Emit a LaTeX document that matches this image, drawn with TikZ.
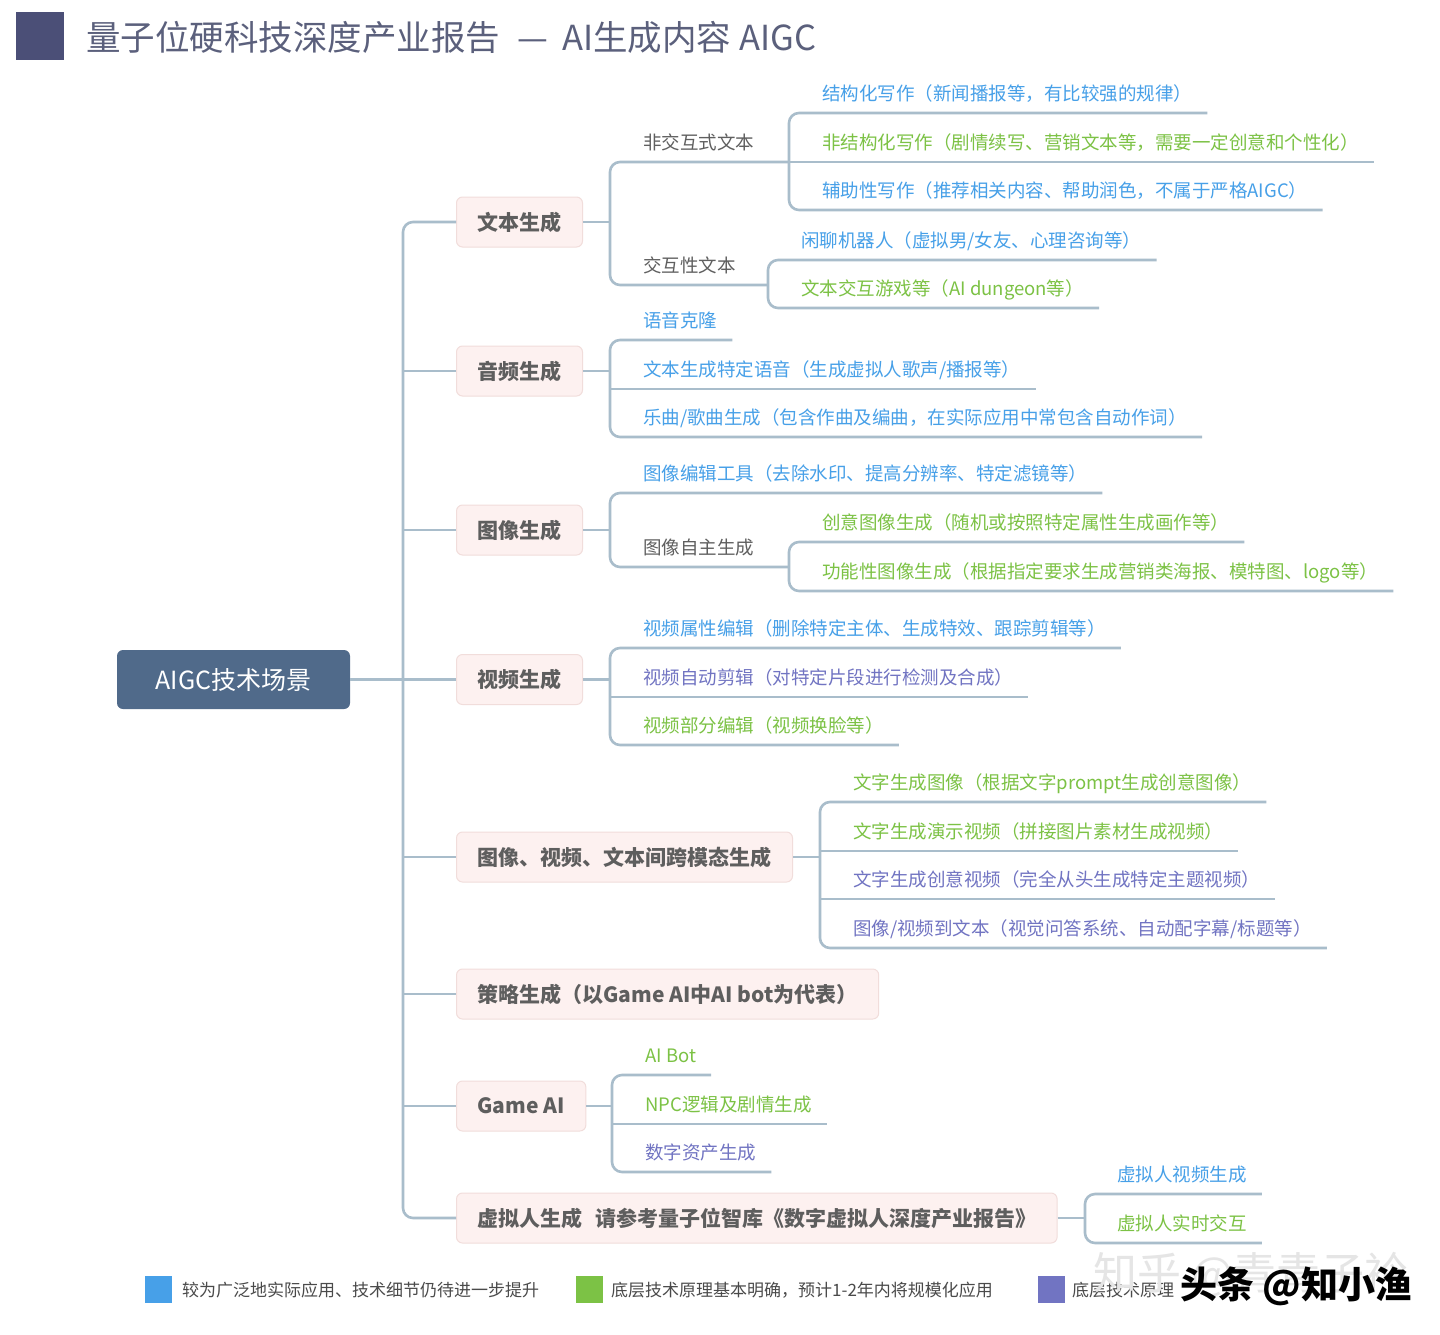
\documentclass[tikz,border=0pt]{standalone}
\usepackage{fontspec}
\setmainfont{Noto Sans CJK SC}
\usepackage{tikz}

\definecolor{linec}{HTML}{A9BDCB}
\definecolor{rootf}{HTML}{506A8A}
\definecolor{topicf}{HTML}{FDF1F0}
\definecolor{topicd}{HTML}{F1DDDB}
\definecolor{topict}{HTML}{5E5E5E}
\definecolor{blu}{HTML}{47A0E8}
\definecolor{grn}{HTML}{7CC245}
\definecolor{pur}{HTML}{7174C2}
\definecolor{midt}{HTML}{5F5F5F}
\definecolor{titlec}{HTML}{5B607C}
\definecolor{titleb}{HTML}{4B4F77}
\definecolor{legt}{HTML}{4A4A4A}

\begin{document}
\begin{tikzpicture}[x=1pt,y=-1pt,
	tree/.style={draw=linec,line width=2.6pt,rounded corners=10pt},
	root/.style={fill=rootf,text=white,rounded corners=6pt,minimum width=233pt,minimum height=59pt,font=\fontsize{25}{25}\selectfont},
	topic/.style={anchor=west,draw=topicd,line width=1pt,fill=topicf,rounded corners=6pt,text=topict,font=\fontsize{21}{21}\selectfont\bfseries,minimum height=50pt,inner xsep=21pt},
	leaf/.style={anchor=south west,font=\fontsize{18.5}{18.5}\selectfont,inner xsep=15pt,inner ysep=8pt,text depth=4pt,text height=14pt},
	mid/.style={leaf,text=midt},
	cblue/.style={leaf,text=blu},
	cgreen/.style={leaf,text=grn},
	cpurple/.style={leaf,text=pur},
	key/.style={minimum size=27pt,inner sep=0pt},
	keytext/.style={anchor=base west,inner sep=0pt,text=legt,font=\fontsize{17}{17}\selectfont}]
						\fill[white] (0,0) rectangle (1440,1334);
						\useasboundingbox (0,0) rectangle (1440,1334);
						
						\node[fill=titleb,minimum size=48pt,inner sep=0pt] (tbox) at (40,36) {};
						\node[anchor=base west,inner sep=0pt,text=titlec,font=\fontsize{34.5}{34.5}\selectfont] (title) at (86,50) {量子位硬科技深度产业报告\hspace{0.5em}—\hspace{0.4em}AI生成内容\hspace{0.25em}AIGC};
						
						\node[root] (root) at (233.5,679.5) {AIGC技术场景};
						
						\node[topic] (t1) at (456,222) {文本生成};
						\node[topic] (t2) at (456,371) {音频生成};
						\node[topic] (t3) at (456,530) {图像生成};
						\node[topic] (t4) at (456,679.5) {视频生成};
						\node[topic] (t5) at (456,857) {图像、视频、文本间跨模态生成};
						\node[topic] (t6) at (456,994) {策略生成（以Game AI中AI bot为代表）};
						\node[topic] (t7) at (456,1106) {Game AI};
						\node[topic] (t8) at (456,1218) {虚拟人生成\hspace{0.6em}请参考量子位智库《数字虚拟人深度产业报告》};
						
						\coordinate (sp) at (403,0);
						\coordinate (vA) at (610,0);
						\coordinate (vA1) at (789,0);
						\coordinate (vA2) at (768,0);
						\coordinate (vC1) at (789,0);
						\coordinate (vE) at (820,0);
						\coordinate (vG) at (612,0);
						\coordinate (vH) at (1085,0);
						
						\draw[tree] (t1.west) -- (t1 -| sp) -- (t8 -| sp) -- (t8.west);
						\draw[tree] (root.east) -- (t4.west);
						\draw[tree] (t2 -| sp) -- (t2.west);
						\draw[tree] (t3 -| sp) -- (t3.west);
						\draw[tree] (t5 -| sp) -- (t5.west);
						\draw[tree] (t6 -| sp) -- (t6.west);
						\draw[tree] (t7 -| sp) -- (t7.west);
						
						\node[mid] (m1) at (628,162) {非交互式文本};
						\node[mid] (m2) at (628,285) {交互性文本};
						\node[cblue] (a1) at (807,113) {结构化写作（新闻播报等，有比较强的规律）};
						\node[cgreen] (a2) at (807,162) {非结构化写作（剧情续写、营销文本等，需要一定创意和个性化）};
						\node[cblue] (a3) at (807,210) {辅助性写作（推荐相关内容、帮助润色，不属于严格AIGC）};
						\node[cblue] (a4) at (786,260) {闲聊机器人（虚拟男/女友、心理咨询等）};
						\node[cgreen] (a5) at (786,308) {文本交互游戏等（AI dungeon等）};
						\draw[tree] (t1.east) -- (t1 -| vA);
						\draw[tree] (m1.south -| vA1) -- (m1.south -| vA) -- (m2.south -| vA) -- (m2.south -| vA2);
						\draw[tree] (a1.south east) -- (a1.south east -| vA1) -- (a3.south east -| vA1) -- (a3.south east);
						\draw[tree] (a2.south east -| vA1) -- (a2.south east);
						\draw[tree] (a4.south east) -- (a4.south east -| vA2) -- (a5.south east -| vA2) -- (a5.south east);
						
						\node[cblue] (b1) at (628,340) {语音克隆};
						\node[cblue] (b2) at (628,389) {文本生成特定语音（生成虚拟人歌声/播报等）};
						\node[cblue] (b3) at (628,437) {乐曲/歌曲生成（包含作曲及编曲，在实际应用中常包含自动作词）};
						\draw[tree] (t2.east) -- (t2 -| vA);
						\draw[tree] (b1.south east) -- (b1.south east -| vA) -- (b3.south east -| vA) -- (b3.south east);
						\draw[tree] (b2.south east -| vA) -- (b2.south east);
						
						\node[cblue] (c1) at (628,493) {图像编辑工具（去除水印、提高分辨率、特定滤镜等）};
						\node[mid] (m3) at (628,567) {图像自主生成};
						\node[cgreen] (c2) at (807,542) {创意图像生成（随机或按照特定属性生成画作等）};
						\node[cgreen] (c3) at (807,591) {功能性图像生成（根据指定要求生成营销类海报、模特图、logo等）};
						\draw[tree] (t3.east) -- (t3 -| vA);
						\draw[tree] (c1.south east) -- (c1.south east -| vA) -- (m3.south -| vA) -- (m3.south -| vC1);
						\draw[tree] (c2.south east) -- (c2.south east -| vC1) -- (c3.south east -| vC1) -- (c3.south east);
						
						\node[cblue] (d1) at (628,648) {视频属性编辑（删除特定主体、生成特效、跟踪剪辑等）};
						\node[cpurple] (d2) at (628,697) {视频自动剪辑（对特定片段进行检测及合成）};
						\node[cgreen] (d3) at (628,745) {视频部分编辑（视频换脸等）};
						\draw[tree] (t4.east) -- (t4 -| vA);
						\draw[tree] (d1.south east) -- (d1.south east -| vA) -- (d3.south east -| vA) -- (d3.south east);
						\draw[tree] (d2.south east -| vA) -- (d2.south east);
						
						\node[cgreen] (e1) at (838,802) {文字生成图像（根据文字prompt生成创意图像）};
						\node[cgreen] (e2) at (838,851) {文字生成演示视频（拼接图片素材生成视频）};
						\node[cpurple] (e3) at (838,899) {文字生成创意视频（完全从头生成特定主题视频）};
						\node[cpurple] (e4) at (838,948) {图像/视频到文本（视觉问答系统、自动配字幕/标题等）};
						\draw[tree] (t5.east) -- (t5 -| vE);
						\draw[tree] (e1.south east) -- (e1.south east -| vE) -- (e4.south east -| vE) -- (e4.south east);
						\draw[tree] (e2.south east -| vE) -- (e2.south east);
						\draw[tree] (e3.south east -| vE) -- (e3.south east);
						
						\node[cgreen] (g1) at (630,1075) {AI Bot};
						\node[cgreen] (g2) at (630,1124) {NPC逻辑及剧情生成};
						\node[cpurple] (g3) at (630,1172) {数字资产生成};
						\draw[tree] (t7.east) -- (t7 -| vG);
						\draw[tree] (g1.south east) -- (g1.south east -| vG) -- (g3.south east -| vG) -- (g3.south east);
						\draw[tree] (g2.south east -| vG) -- (g2.south east);
						
						\node[cblue] (h1) at (1102,1194) {虚拟人视频生成};
						\node[cgreen] (h2) at (1102,1243) {虚拟人实时交互};
						\draw[tree] (t8.east) -- (t8 -| vH);
						\draw[tree] (h1.south east) -- (h1.south east -| vH) -- (h2.south east -| vH) -- (h2.south east);
						
						\node[key,fill=blu] (k1) at (158.5,1289.5) {};
						\node[keytext] (k1t) at (182,1296) {较为广泛地实际应用、技术细节仍待进一步提升};
						\node[key,fill=grn] (k2) at (589.5,1289.5) {};
						\node[keytext] (k2t) at (611,1296) {底层技术原理基本明确，预计1-2年内将规模化应用};
						\node[key,fill=pur] (k3) at (1051,1289.5) {};
						\node[keytext] (k3t) at (1072,1296) {底层技术原理};
						
						\node[anchor=base west,inner sep=0pt,text=black!10,font=\fontsize{44}{44}\selectfont] (wm1) at (1093,1289) {知乎 @青青子衿};
						\node[anchor=base west,inner sep=0pt,text=black,font=\fontsize{37}{37}\selectfont\bfseries] (wm2) at (1180,1298) {头条 @知小渔};
					\end{tikzpicture}
\end{document}
